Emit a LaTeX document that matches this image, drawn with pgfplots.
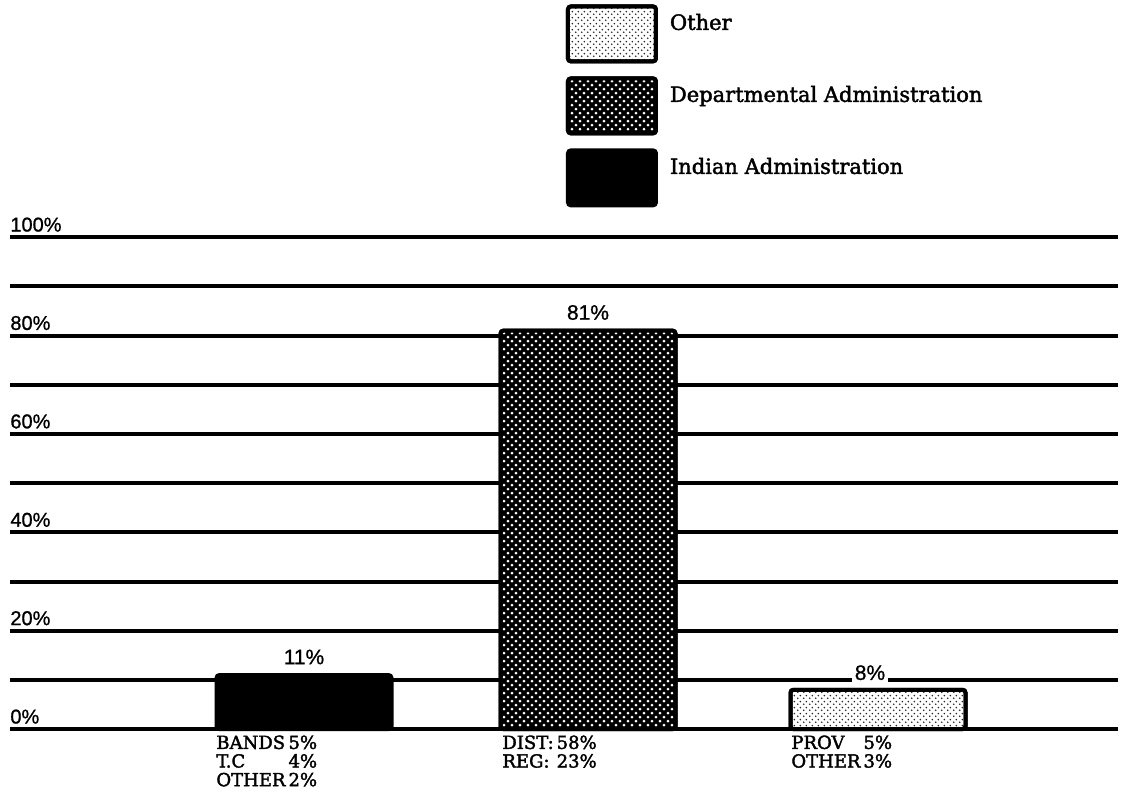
\documentclass[border=0pt]{standalone}
\usepackage{pgfplots}
\pgfplotsset{compat=1.18}
\usetikzlibrary{patterns}
\usepackage{fontspec}
\setmainfont{DejaVu Serif}[FakeBold=2]
\newfontfamily\pctfont{Liberation Sans}[FakeBold=1]

% staggered dot patterns, as in the printed chart
\pgfdeclarepatternformonly{coarsedots}{\pgfqpoint{-1pt}{-1pt}}{\pgfqpoint{3pt}{3pt}}{\pgfqpoint{4pt}{4pt}}{%
  \pgfpathcircle{\pgfqpoint{0pt}{0pt}}{0.8pt}%
  \pgfpathcircle{\pgfqpoint{2pt}{2pt}}{0.8pt}%
  \pgfusepath{fill}}
\pgfdeclarepatternformonly{finedots}{\pgfqpoint{-1pt}{-1pt}}{\pgfqpoint{2pt}{2pt}}{\pgfqpoint{3pt}{3pt}}{%
  \pgfpathcircle{\pgfqpoint{0pt}{0pt}}{0.5pt}%
  \pgfpathcircle{\pgfqpoint{1.5pt}{1.5pt}}{0.5pt}%
  \pgfusepath{fill}}

\begin{document}
\begin{tikzpicture}
\begin{axis}[
    scale only axis,
    width=554pt, height=246pt,
    xmin=10, xmax=1118,
    ymin=0, ymax=100,
    clip=false,
    axis line style={draw=none},
    xtick=\empty,
    ytick={0,20,...,100},
    minor ytick={10,30,...,90},
    ymajorgrids, yminorgrids,
    major grid style={black, line width=2pt},
    minor grid style={black, line width=2pt},
    major tick length=0pt, minor tick length=0pt,
    /pgf/number format/assume math mode=true,
    yticklabel={\pctfont\pgfmathprintnumber{\tick}\%},
    yticklabel style={anchor=south west, inner sep=0pt, yshift=2.5pt, font=\fontsize{10}{12}\selectfont},
    every axis plot/.append style={ybar, bar width=87.5pt, bar shift=0pt, draw=black, line width=2pt, rounded corners=1.5pt},
    legend image code/.code={%
        \path (49pt,0pt);
        \draw[#1] (0pt,-19pt) rectangle (44pt,8.5pt);},
    legend style={draw=none, fill=none, at={(0.496,1.482)}, anchor=north west,
        row sep=6.5pt, column sep=0pt, font=\fontsize{10.5}{12}\selectfont,
        nodes={inner sep=1pt}},
    legend cell align=left,
]
% Other
\addplot[fill=white, postaction={pattern=finedots, pattern color=black!85}]
    coordinates {(878,8)};
% Departmental Administration
\addplot[fill=black, postaction={pattern=coarsedots, pattern color=white},
    nodes near coords={\pctfont\pgfmathprintnumber{\pgfplotspointmeta}\%},
    nodes near coords style={font=\fontsize{10.5}{12}\selectfont, anchor=south, yshift=1pt}]
    coordinates {(588,81)};
% Indian Administration
\addplot[fill=black,
    nodes near coords={\pctfont\pgfmathprintnumber{\pgfplotspointmeta}\%},
    nodes near coords style={font=\fontsize{10.5}{12}\selectfont, anchor=south, yshift=1pt}]
    coordinates {(304,11)};
\legend{Other, Departmental Administration, Indian Administration}

\node[fill=white, inner sep=1.5pt, anchor=base, font=\fontsize{10.5}{12}\selectfont\pctfont] at (axis cs:870,10) {8\%};

\node[anchor=north west, inner sep=0pt, yshift=-3pt, font=\fontsize{9}{8.8}\selectfont] at (axis cs:216,0)
    {\begin{tabular}{@{}l@{\,}r@{}}BANDS & 5\% \\ T.C & 4\% \\ OTHER & 2\%\end{tabular}};
\node[anchor=north west, inner sep=0pt, yshift=-3pt, font=\fontsize{9}{8.8}\selectfont] at (axis cs:502,0)
    {\begin{tabular}{@{}l@{\,}l@{}}DIST: & 58\% \\ REG: & 23\%\end{tabular}};
\node[anchor=north west, inner sep=0pt, yshift=-3pt, font=\fontsize{9}{8.8}\selectfont] at (axis cs:791,0)
    {\begin{tabular}{@{}l@{\,}r@{}}PROV & 5\% \\ OTHER & 3\%\end{tabular}};

\coordinate (bbll) at (axis cs:0,-15.45);
\coordinate (bbur) at (axis cs:1121,148.2);
\end{axis}
\pgfresetboundingbox
\path[use as bounding box] (bbll) rectangle (bbur);
\end{tikzpicture}
\end{document}
